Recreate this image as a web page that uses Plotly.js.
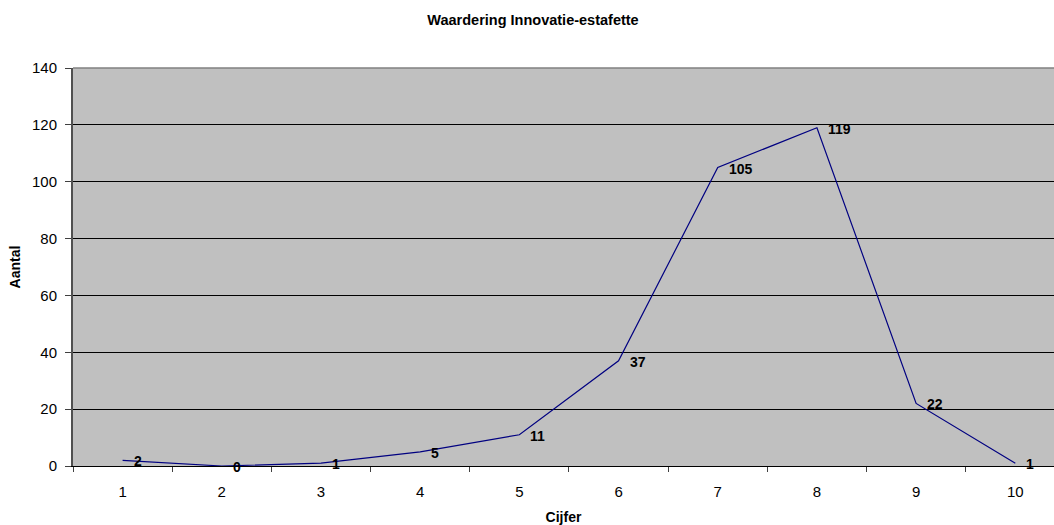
<!DOCTYPE html>
<html>
<head>
<meta charset="utf-8">
<script src="https://cdn.plot.ly/plotly-3.0.1.min.js"></script>
<style>html,body{margin:0;padding:0;background:#fff;}#chart{width:1054px;height:525px;}</style>
</head>
<body>
<div id="chart"></div>
<script>
var categories = ["1","2","3","4","5","6","7","8","9","10"];
var aantal = [2, 0, 1, 5, 11, 37, 105, 119, 22, 1];
var yTicks = [0, 20, 40, 60, 80, 100, 120, 140];

var FONT = "Liberation Sans, Arial, sans-serif";

var trace = {
  x: categories,
  y: aantal,
  type: "scatter",
  mode: "lines",
  line: {color: "#000080", width: 1.2},
  hoverinfo: "x+y"
};

var labels = categories.map(function(c, i) {
  return {
    x: i, y: aantal[i], xref: "x", yref: "y",
    text: "<b>" + String(aantal[i]) + "</b>", showarrow: false,
    xanchor: "left", yanchor: "middle", xshift: 9, yshift: -1,
    font: {family: FONT, size: 14, color: "#000"}
  };
});

var layout = {
  width: 1054, height: 525,
  margin: {l: 73, r: 0, t: 68, b: 59},
  paper_bgcolor: "#ffffff",
  plot_bgcolor: "#c0c0c0",
  showlegend: false,
  title: {
    text: "<b>Waardering Innovatie-estafette</b>",
    font: {family: FONT, size: 14.5, color: "#000"},
    x: 533 / 1054, xanchor: "center", xref: "container",
    y: 1 - 20 / 525, yanchor: "middle", yref: "container"
  },
  xaxis: {
    type: "category",
    range: [-0.5, 9.39],
    tickson: "boundaries",
    ticks: "outside", ticklen: 5, tickcolor: "#404040", tickwidth: 1,
    showgrid: false, zeroline: false,
    showline: true, linecolor: "#000", linewidth: 1,
    tickfont: {family: FONT, size: 15, color: "#000"},
    ticklabelstandoff: 12,
    title: {text: "<b>Cijfer</b>", font: {family: FONT, size: 14, color: "#000"}, standoff: 13},
    automargin: false, fixedrange: true
  },
  yaxis: {
    range: [0, 140],
    tickvals: yTicks,
    ticktext: yTicks.map(String),
    ticks: "outside", ticklen: 6, tickcolor: "#404040", tickwidth: 1,
    showgrid: true, gridcolor: "#000", gridwidth: 1,
    zeroline: false,
    showline: true, linecolor: "#505050", linewidth: 2,
    tickfont: {family: FONT, size: 15, color: "#000"},
    ticklabelstandoff: 5,
    title: {text: "<b>Aantal</b>", font: {family: FONT, size: 14, color: "#000"}, standoff: 8},
    automargin: false, fixedrange: true
  },
  shapes: [{
    type: "line", xref: "paper", yref: "paper",
    x0: 0, x1: 1, y0: 1, y1: 1,
    line: {color: "#808080", width: 1.5}
  }],
  annotations: labels
};

Plotly.newPlot("chart", [trace], layout, {displayModeBar: false, staticPlot: true});
</script>
</body>
</html>
